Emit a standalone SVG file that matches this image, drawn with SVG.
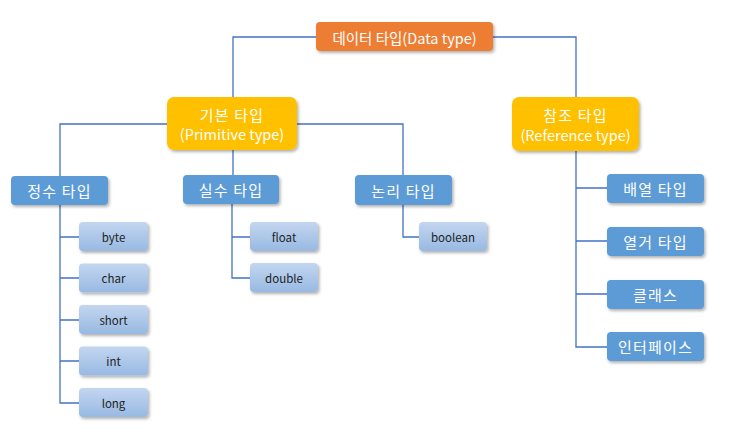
<svg xmlns="http://www.w3.org/2000/svg" width="737" height="444" viewBox="0 0 737 444">
<defs>
<filter id="sh" x="-20%" y="-20%" width="150%" height="160%">
<feDropShadow dx="1.5" dy="2" stdDeviation="1.5" flood-color="#000" flood-opacity="0.3"/>
</filter>
<linearGradient id="lb" x1="0" y1="0" x2="0" y2="1">
<stop offset="0" stop-color="#C3D6F0"/>
<stop offset="1" stop-color="#98B9E2"/>
</linearGradient>
</defs>
<style>
.t{font-family:"Noto Sans CJK KR","Noto Sans",sans-serif;text-anchor:middle;dominant-baseline:central}
.w{fill:#fff;font-size:14.5px}
.k{font-size:15px;letter-spacing:1.2px}
.d{fill:#222;font-size:11.5px}
.or{fill:#ED7D31;filter:url(#sh)}
.ye{fill:#FFC000;filter:url(#sh)}
.bl{fill:#5B9BD5;filter:url(#sh)}
.lt{fill:url(#lb);filter:url(#sh)}
.c{fill:none;stroke:#4472C4;stroke-width:1.3}
</style>
<rect width="737" height="444" fill="#fff"/>
<g id="connectors">
<path class="c" d="M316,37H233V97M493,37H576V97"/>
<path class="c" d="M167,124H60V176M233,150V175M297,124H403V175"/>
<path class="c" d="M60,205V403H79M60,237H79M60,278H79M60,320H79M60,361H79"/>
<path class="c" d="M232,204V278H250M232,237H250"/>
<path class="c" d="M403,205V237H419"/>
<path class="c" d="M576,151V347H607M576,188H607M576,241H607M576,294H607"/>
</g>
<g id="n-data"><rect class="or" x="316" y="22" width="177" height="29" rx="4"/><text class="t w" x="404.5" y="37">데이터 타입(Data type)</text></g>
<g id="n-prim"><rect class="ye" x="167" y="97" width="130" height="53" rx="7"/><text class="t w k" x="232" y="114">기본 타입</text><text class="t w" x="232" y="133">(Primitive type)</text></g>
<g id="n-ref"><rect class="ye" x="512" y="97" width="127" height="54" rx="7"/><text class="t w k" x="575.5" y="114">참조 타입</text><text class="t w" x="575.5" y="134">(Reference type)</text></g>
<g id="n-int"><rect class="bl" x="11" y="176" width="97" height="29" rx="4"/><text class="t w k" x="59.5" y="190.5">정수 타입</text></g>
<g id="n-real"><rect class="bl" x="183" y="175" width="96" height="29" rx="4"/><text class="t w k" x="231" y="189.5">실수 타입</text></g>
<g id="n-logic"><rect class="bl" x="355" y="175" width="97" height="30" rx="4"/><text class="t w k" x="403.5" y="190">논리 타입</text></g>
<g id="n-byte"><rect class="lt" x="79" y="222" width="69" height="29" rx="4"/><text class="t d" x="113.5" y="236.5">byte</text></g>
<g id="n-char"><rect class="lt" x="79" y="263.5" width="69" height="29" rx="4"/><text class="t d" x="113.5" y="278">char</text></g>
<g id="n-short"><rect class="lt" x="79" y="305" width="69" height="29" rx="4"/><text class="t d" x="113.5" y="319.5">short</text></g>
<g id="n-intp"><rect class="lt" x="79" y="346.5" width="69" height="29" rx="4"/><text class="t d" x="113.5" y="361">int</text></g>
<g id="n-long"><rect class="lt" x="79" y="388" width="69" height="29" rx="4"/><text class="t d" x="113.5" y="402.5">long</text></g>
<g id="n-float"><rect class="lt" x="250" y="222" width="68" height="29" rx="4"/><text class="t d" x="284" y="236.5">float</text></g>
<g id="n-double"><rect class="lt" x="250" y="263" width="68" height="29" rx="4"/><text class="t d" x="284" y="277.5">double</text></g>
<g id="n-boolean"><rect class="lt" x="419" y="222" width="68" height="29" rx="4"/><text class="t d" x="453" y="236.5">boolean</text></g>
<g id="n-array"><rect class="bl" x="607" y="174" width="97" height="29" rx="4"/><text class="t w k" x="655.5" y="188.5">배열 타입</text></g>
<g id="n-enum"><rect class="bl" x="607" y="227" width="97" height="29" rx="4"/><text class="t w k" x="655.5" y="241.5">열거 타입</text></g>
<g id="n-class"><rect class="bl" x="607" y="280" width="97" height="29" rx="4"/><text class="t w k" x="655.5" y="294.5">클래스</text></g>
<g id="n-iface"><rect class="bl" x="607" y="332" width="97" height="29" rx="4"/><text class="t w k" x="655.5" y="346.5">인터페이스</text></g>
</svg>
